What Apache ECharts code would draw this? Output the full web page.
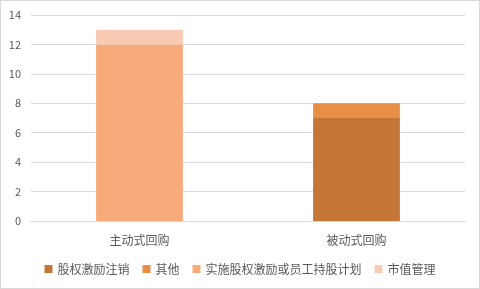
<!DOCTYPE html>
<html><head><meta charset="utf-8">
<script src="https://cdn.jsdelivr.net/npm/echarts@6/dist/echarts.min.js"></script>
<style>html,body{margin:0;padding:0;background:#fff}#c{width:478px;height:287px;border:1px solid #d9d9d9}</style>
</head><body><div id="c"></div>
<script>
var categories = ['主动式回购', '被动式回购'];
var seriesNames = ['股权激励注销', '其他', '实施股权激励或员工持股计划', '市值管理'];
var s1 = [0, 7];
var s2 = [0, 1];
var s3 = [12, 0];
var s4 = [1, 0];
var yTicks = [0, 2, 4, 6, 8, 10, 12, 14];
var colors = ['#C47636', '#E88E45', '#F8AB7A', '#F9CAB4'];
var data = [s1, s2, s3, s4];
var chart = echarts.init(document.getElementById('c'));
var font = '"Noto Sans CJK SC", sans-serif';
chart.setOption({
  animation: false,
  textStyle: {fontFamily: font},
  grid: {left: 30, right: 14, top: 14, bottom: 67},
  xAxis: {type: 'category', data: categories,
    axisLine: {lineStyle: {color: '#d9d9d9'}}, axisTick: {show: false},
    axisLabel: {color: '#595959', fontSize: 12, margin: 13, fontFamily: font}},
  yAxis: {type: 'value', min: yTicks[0], max: yTicks[yTicks.length-1], interval: 2,
    axisLine: {show: false}, axisTick: {show: false},
    splitLine: {lineStyle: {color: '#d9d9d9'}},
    axisLabel: {color: '#595959', fontSize: 11, margin: 10, fontFamily: font}},
  legend: {bottom: 8, left: 'center', itemWidth: 8, itemHeight: 8, itemGap: 13, icon: 'rect',
    textStyle: {color: '#595959', fontSize: 12, fontFamily: font},
    data: seriesNames},
  series: seriesNames.map(function (n, i) {
    return {name: n, type: 'bar', stack: 'a', data: data[i], barWidth: '40%',
      itemStyle: {color: colors[i]}};
  })
});
</script></body></html>
